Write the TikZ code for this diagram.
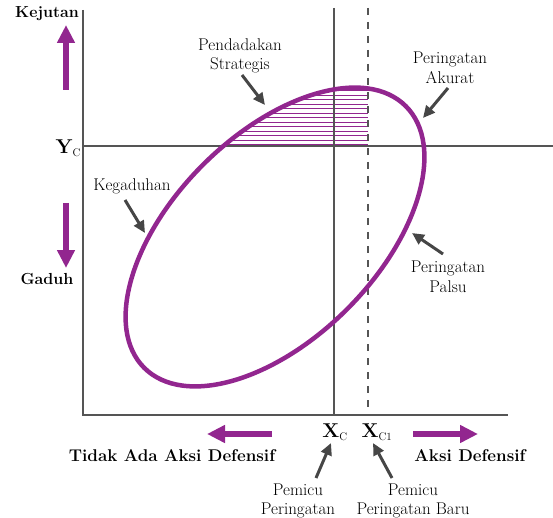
\documentclass[tikz,border=0pt]{standalone}
\usetikzlibrary{arrows.meta}
\definecolor{purp}{RGB}{146,38,143}
\definecolor{axgray}{RGB}{85,85,85}
\definecolor{argray}{RGB}{70,70,70}
\begin{document}
\begin{tikzpicture}[x=1pt,y=-1pt,
  lbl/.style={font=\fontsize{17}{19.5}\selectfont, align=center, inner sep=0pt, text=black},
  blbl/.style={font=\fontsize{16}{19}\selectfont\bfseries, inner sep=0pt},
  bblbl/.style={font=\fontsize{17}{19}\selectfont\bfseries, inner sep=0pt},
  bigl/.style={font=\fontsize{20}{22}\selectfont\bfseries, inner sep=0pt},
  garrow/.style={draw=argray, line width=3pt, -{Triangle[length=12pt,width=11pt]}},
  parrow/.style={draw=purp, line width=5.5pt, -{Triangle[length=18pt,width=17pt]}},
  axis/.style={draw=axgray, line width=2.2pt},
  guide/.style={draw=axgray, line width=1.6pt},
  oval/.style={draw=purp, line width=4.5pt}
]
\useasboundingbox (0,0) rectangle (553,518);
% hatching
\begin{scope}
  \clip[rotate around={45:(275,237)}] (275,237) ellipse [x radius=185, y radius=102];
  \clip (83,88) rectangle (368,146.5);
  \foreach \yy in {91,95.5,...,146} \draw[purp, line width=1pt] (83,\yy) -- (368,\yy);
\end{scope}
% axes and guides
\coordinate (o) at (83,415);
\coordinate (ytop) at (83,10);
\coordinate (xend) at (508,415);
\draw[axis] (ytop) -- (o) -- (xend);
\coordinate (ycl) at (83,146);
\coordinate (ycr) at (553,146);
\draw[guide] (ycl) -- (ycr);
\coordinate (xct) at (334,8);
\coordinate (xcb) at (334,415);
\draw[guide] (xct) -- (xcb);
\coordinate (xc1t) at (368,8);
\coordinate (xc1b) at (368,415);
\draw[guide, dash pattern=on 7pt off 7pt] (xc1t) -- (xc1b);
% ellipse
\draw[oval, rotate around={45:(275,237)}] (275,237) ellipse [x radius=185, y radius=102];
% axis labels
\node[blbl] (kej) at (47,14) {Kejutan};
\node[blbl] (gad) at (47,279) {Gaduh};
\node[bigl, anchor=east] (yc) at (81,148) {Y\textsubscript{\fontsize{11}{12}\selectfont\mdseries C}};
\node[bigl] (xc) at (335,432) {X\textsubscript{\fontsize{11}{12}\selectfont\mdseries C}};
\node[bigl] (xc1) at (377,432) {X\textsubscript{\fontsize{11}{12}\selectfont\mdseries C1}};
\node[bblbl] (tak) at (172,456) {Tidak Ada Aksi Defensif};
\node[bblbl] (aks) at (470,456) {Aksi Defensif};
% purple arrows
\coordinate (upa) at (66,90); \coordinate (upb) at (66,25);
\draw[parrow] (upa) -- (upb);
\coordinate (dna) at (66,203); \coordinate (dnb) at (66,268);
\draw[parrow] (dna) -- (dnb);
\coordinate (lfa) at (272,434); \coordinate (lfb) at (207,434);
\draw[parrow] (lfa) -- (lfb);
\coordinate (rta) at (413,434); \coordinate (rtb) at (478,434);
\draw[parrow] (rta) -- (rtb);
% annotations
\node[lbl] (pend) at (240,56) {Pendadakan\\Strategis};
\coordinate (pendt) at (265,105);
\draw[garrow] (242,75) -- (pendt);
\node[lbl] (akur) at (450,68) {Peringatan\\Akurat};
\coordinate (akurt) at (423,118);
\draw[garrow] (448,88) -- (akurt);
\node[lbl] (keg) at (132,186) {Kegaduhan};
\coordinate (kegt) at (145,233);
\draw[garrow] (125,200) -- (kegt);
\node[lbl] (pals) at (448,277) {Peringatan\\Palsu};
\coordinate (palst) at (412,233);
\draw[garrow] (443,254) -- (palst);
\node[lbl] (pem1) at (298,501) {Pemicu\\Peringatan};
\coordinate (pem1t) at (331,443);
\draw[garrow] (316,478) -- (pem1t);
\node[lbl] (pem2) at (413,501) {Pemicu\\Peringatan Baru};
\coordinate (pem2t) at (373,443);
\draw[garrow] (392,478) -- (pem2t);
\end{tikzpicture}
\end{document}
